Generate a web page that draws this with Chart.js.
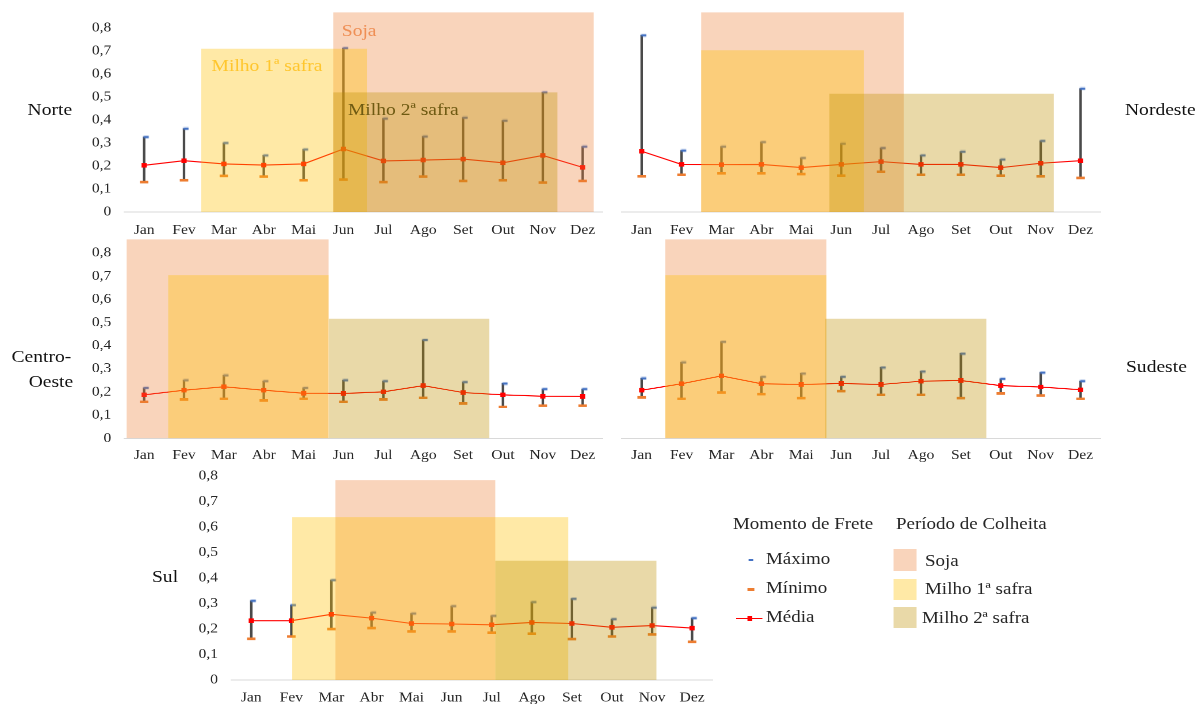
<!DOCTYPE html>
<html>
<head>
<meta charset="utf-8">
<script src="https://cdn.jsdelivr.net/npm/chart.js@4.4.1/dist/chart.umd.min.js"></script>
<style>
  html, body { margin: 0; padding: 0; background: #fff; }
  body { width: 1199px; height: 704px; overflow: hidden; position: relative; }
  #stage {
    position: absolute; left: 0; top: 0; width: 1043px; height: 704px;
    transform: scaleX(1.15); transform-origin: 0 0;
    font-family: "Liberation Serif", "Times New Roman", serif; color: #1a1a1a;
  }
  .box { position: absolute; }
  .lbl { position: absolute; white-space: nowrap; line-height: 1; }
  .mk { position: absolute; }
</style>
</head>
<body>
<div id="stage"></div>
<script>
// ---- data ----
const months = ['Jan', 'Fev', 'Mar', 'Abr', 'Mai', 'Jun', 'Jul', 'Ago', 'Set', 'Out', 'Nov', 'Dez'];
const yTickValues = [0, 0.1, 0.2, 0.3, 0.4, 0.5, 0.6, 0.7, 0.8];
const yTickLabels = ['0', '0,1', '0,2', '0,3', '0,4', '0,5', '0,6', '0,7', '0,8'];

// Momento de frete por região: máximo, mínimo e média mensais
const norteMax   = [0.326, 0.362, 0.300, 0.246, 0.272, 0.712, 0.406, 0.328, 0.410, 0.397, 0.520, 0.284];
const norteMin   = [0.130, 0.138, 0.157, 0.154, 0.138, 0.141, 0.130, 0.154, 0.135, 0.138, 0.128, 0.135];
const norteMedia = [0.203, 0.223, 0.209, 0.204, 0.209, 0.274, 0.222, 0.226, 0.230, 0.214, 0.246, 0.194];

const nordesteMax   = [0.768, 0.267, 0.284, 0.304, 0.235, 0.297, 0.278, 0.246, 0.262, 0.228, 0.309, 0.536];
const nordesteMin   = [0.155, 0.162, 0.168, 0.168, 0.165, 0.158, 0.175, 0.162, 0.162, 0.158, 0.155, 0.148];
const nordesteMedia = [0.264, 0.207, 0.206, 0.207, 0.193, 0.207, 0.219, 0.207, 0.207, 0.193, 0.212, 0.223];

const centroOesteMax   = [0.218, 0.251, 0.272, 0.247, 0.218, 0.251, 0.247, 0.425, 0.243, 0.237, 0.213, 0.213];
const centroOesteMin   = [0.158, 0.168, 0.171, 0.164, 0.171, 0.158, 0.168, 0.175, 0.151, 0.136, 0.141, 0.141];
const centroOesteMedia = [0.188, 0.208, 0.223, 0.208, 0.195, 0.194, 0.201, 0.228, 0.198, 0.188, 0.182, 0.181];

const sudesteMax   = [0.259, 0.328, 0.417, 0.266, 0.280, 0.266, 0.306, 0.289, 0.366, 0.257, 0.284, 0.247];
const sudesteMin   = [0.177, 0.171, 0.198, 0.191, 0.174, 0.204, 0.188, 0.188, 0.174, 0.194, 0.185, 0.171];
const sudesteMedia = [0.208, 0.236, 0.270, 0.236, 0.233, 0.237, 0.233, 0.247, 0.250, 0.228, 0.222, 0.210];

const sulMax   = [0.311, 0.294, 0.392, 0.265, 0.261, 0.290, 0.252, 0.306, 0.319, 0.239, 0.284, 0.243];
const sulMin   = [0.162, 0.171, 0.200, 0.204, 0.191, 0.191, 0.186, 0.182, 0.161, 0.171, 0.179, 0.150];
const sulMedia = [0.233, 0.233, 0.258, 0.243, 0.222, 0.220, 0.217, 0.226, 0.222, 0.207, 0.214, 0.204];

// Período de colheita: [início, fim, altura] (início/fim em posição de mês, Jan = 0)
const norteSoja   = [4.74, 11.28, 0.868];
const norteMilho1 = [1.43, 5.59, 0.710];
const norteMilho2 = [4.74, 10.37, 0.520];

const nordesteSoja   = [1.49, 6.57, 0.868];
const nordesteMilho1 = [1.49, 5.57, 0.703];
const nordesteMilho2 = [4.70, 10.33, 0.514];

const centroOesteSoja   = [-0.44, 4.63, 0.859];
const centroOesteMilho1 = [0.60, 4.63, 0.705];
const centroOesteMilho2 = [4.63, 8.66, 0.517];

const sudesteSoja   = [0.59, 4.63, 0.859];
const sudesteMilho1 = [0.59, 4.63, 0.705];
const sudesteMilho2 = [4.60, 8.64, 0.517];

const sulSoja   = [2.10, 6.09, 0.784];
const sulMilho1 = [1.02, 7.91, 0.639];
const sulMilho2 = [6.09, 10.11, 0.468];

// ---- styles ----
const K = 1.15;                      // horizontal stretch of the whole figure
const SOJA   = 'rgba(237,125,49,0.33)';
const MILHO1 = 'rgba(255,192,0,0.35)';
const MILHO2 = 'rgba(191,144,0,0.34)';
const TXT = '#262626';
const stage = document.getElementById('stage');
Chart.defaults.font.family = '"Liberation Serif", "Times New Roman", serif';

// small blue cap drawn to the right of the whisker top
function flagMarker() {
  const c = document.createElement('canvas');
  c.width = 14; c.height = 4;
  const g = c.getContext('2d');
  g.fillStyle = '#4472c4';
  g.fillRect(6.4, 0.8, 4.6, 2.4);
  return c;
}
const flag = flagMarker();

function buildDatasets(s) {
  const pts = arr => arr.map((v, i) => ({ x: i, y: v }));
  const period = (p, color, order) => ({
    type: 'line', data: [{ x: p[0], y: p[2] }, { x: p[1], y: p[2] }],
    fill: 'origin', backgroundColor: color, borderColor: 'transparent', borderWidth: 0,
    pointRadius: 0, order
  });
  return [
    { type: 'bar', data: s.min.map((v, i) => ({ x: i, y: [v, s.max[i]] })),
      backgroundColor: '#4a4a4a', barThickness: 1.5, order: 6 },
    { type: 'line', data: pts(s.min), showLine: false, pointStyle: 'line',
      pointRadius: 3.7, pointBorderWidth: 2.6, pointBorderColor: '#ed7d31', order: 5 },
    { type: 'line', data: pts(s.max), showLine: false, pointStyle: flag, order: 4 },
    { type: 'line', data: pts(s.media), borderColor: '#ff0000', borderWidth: 1.1,
      pointStyle: 'rect', pointRadius: 3.2, pointBackgroundColor: '#ff0000',
      pointBorderColor: '#ff0000', pointBorderWidth: 0, order: 3 },
    period(s.soja, SOJA, 2),
    period(s.milho1, MILHO1, 1),
    period(s.milho2, MILHO2, 0)
  ];
}

// g: panel geometry in page pixels
function panel(s, g) {
  const plotL = g.left / K, plotR = g.right / K;
  const boxL = g.showY ? plotL - 45 : plotL - 6;
  const boxR = plotR + 12;
  const plotTop = g.zero - g.unit * g.yMax * 10;
  const boxTop = plotTop - 25;
  const boxBottom = g.zero + 34;
  const div = document.createElement('div');
  div.className = 'box';
  div.style.left = boxL + 'px';
  div.style.top = boxTop + 'px';
  div.style.width = (boxR - boxL) + 'px';
  div.style.height = (boxBottom - boxTop) + 'px';
  const cv = document.createElement('canvas');
  div.appendChild(cv);
  stage.appendChild(div);
  new Chart(cv, {
    type: 'line',
    data: { datasets: buildDatasets(s) },
    options: {
      responsive: true, maintainAspectRatio: false, animation: false,
      devicePixelRatio: 2, events: [],
      layout: { padding: { left: 0, top: plotTop - boxTop, right: boxR - plotR, bottom: 0 } },
      plugins: { legend: { display: false }, tooltip: { enabled: false } },
      scales: {
        x: {
          type: 'linear', min: -0.5, max: 11.5, offset: false,
          grid: { display: false, drawTicks: false, tickLength: 0, offset: false },
          border: { display: true, color: '#d9d9d9', width: 1 },
          afterBuildTicks: sc => { sc.ticks = months.map((m, i) => ({ value: i })); },
          ticks: { callback: v => months[v], padding: g.xPad, color: TXT,
                   font: { size: 13.5 }, maxRotation: 0, autoSkip: false },
          afterFit: sc => { sc.height = boxBottom - g.zero; }
        },
        y: {
          type: 'linear', min: 0, max: g.yMax,
          grid: { display: false, drawTicks: false, tickLength: 0 },
          border: { display: false },
          afterBuildTicks: sc => { sc.ticks = yTickValues.map(v => ({ value: v })); },
          ticks: { display: g.showY, callback: (v, i) => yTickLabels[i], crossAlign: 'near',
                   padding: g.yPad || 0, color: TXT, font: { size: 13.5 } },
          afterFit: sc => { sc.width = plotL - boxL; }
        }
      }
    }
  });
}

panel({ max: norteMax, min: norteMin, media: norteMedia, soja: norteSoja, milho1: norteMilho1, milho2: norteMilho2 },
      { left: 124, right: 602.4, zero: 212.3, unit: 23.0, yMax: 0.9, showY: true, yPad: 11.3, xPad: 10.2 });
panel({ max: nordesteMax, min: nordesteMin, media: nordesteMedia, soja: nordesteSoja, milho1: nordesteMilho1, milho2: nordesteMilho2 },
      { left: 621.3, right: 1100.3, zero: 212.3, unit: 23.0, yMax: 0.9, showY: false, xPad: 10.2 });
panel({ max: centroOesteMax, min: centroOesteMin, media: centroOesteMedia, soja: centroOesteSoja, milho1: centroOesteMilho1, milho2: centroOesteMilho2 },
      { left: 124, right: 602.4, zero: 438.3, unit: 23.2, yMax: 0.9, showY: true, yPad: 11.3, xPad: 9.0 });
panel({ max: sudesteMax, min: sudesteMin, media: sudesteMedia, soja: sudesteSoja, milho1: sudesteMilho1, milho2: sudesteMilho2 },
      { left: 621.3, right: 1100.3, zero: 438.3, unit: 23.2, yMax: 0.9, showY: false, xPad: 9.0 });
panel({ max: sulMax, min: sulMin, media: sulMedia, soja: sulSoja, milho1: sulMilho1, milho2: sulMilho2 },
      { left: 231.5, right: 712, zero: 680, unit: 25.5, yMax: 0.82, showY: true, yPad: 11.5, xPad: 9.9 });

// ---- text and legend ----
function text(str, x, cy, size, color) {
  const d = document.createElement('div');
  d.className = 'lbl';
  d.textContent = str;
  d.style.left = (x / K) + 'px';
  d.style.top = (cy - 0.55 * size) + 'px';
  d.style.fontSize = size + 'px';
  if (color) d.style.color = color;
  stage.appendChild(d);
}
function mark(x, y, w, h, color) {
  const d = document.createElement('div');
  d.className = 'mk';
  d.style.left = (x / K) + 'px';
  d.style.top = y + 'px';
  d.style.width = (w / K) + 'px';
  d.style.height = h + 'px';
  d.style.background = color;
  stage.appendChild(d);
}

// region names
text('Norte', 27.6, 110, 17, '#111');
text('Nordeste', 1125, 110, 17, '#111');
text('Centro-', 11.5, 357, 17, '#111');
text('Oeste', 28.7, 382, 17, '#111');
text('Sudeste', 1126, 367, 17, '#111');
text('Sul', 152, 577, 17, '#111');

// crop names inside the Norte panel
text('Soja', 341.8, 31.7, 17, '#ef8f55');
text('Milho 1ª safra', 211.6, 66.7, 17, '#ffc62e');
text('Milho 2ª safra', 348, 110, 17, '#6e5a12');

// legend
text('Momento de Frete', 733, 525, 16.5, TXT);
text('Período de Colheita', 896, 525, 16.5, TXT);
mark(749, 559, 4.5, 2.2, '#4472c4');
text('Máximo', 766, 560, 16.5, TXT);
mark(747, 588, 7, 2.6, '#ed7d31');
text('Mínimo', 766, 589, 16.5, TXT);
mark(736, 617.5, 27, 1.1, '#ff0000');
mark(747.5, 615.5, 5, 5, '#ff0000');
text('Média', 766, 618, 16.5, TXT);
mark(894, 549, 22, 22, SOJA);
text('Soja', 925, 562, 16.5, TXT);
mark(894, 579, 22, 21, MILHO1);
text('Milho 1ª safra', 925, 590, 16.5, TXT);
mark(894, 607, 22, 21, MILHO2);
text('Milho 2ª safra', 922, 619, 16.5, TXT);
</script>
</body>
</html>
